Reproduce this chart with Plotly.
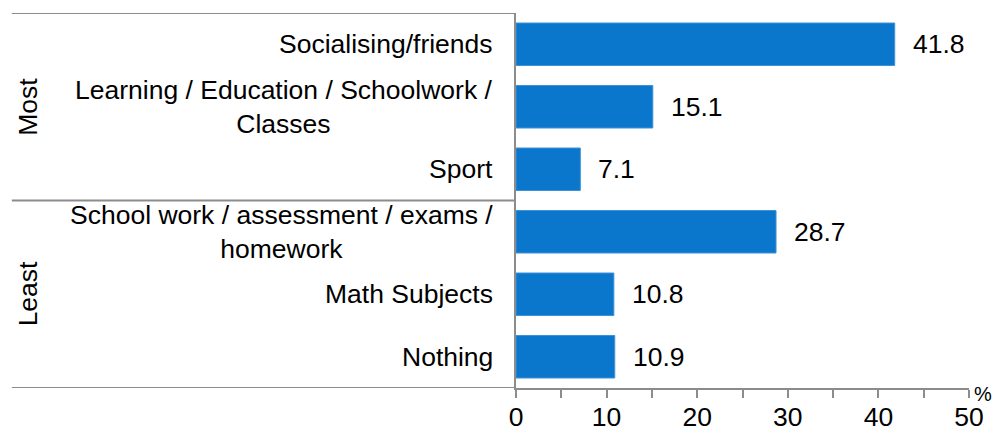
import plotly.graph_objects as go

categories = ["Socialising/friends",
              "Learning / Education / Schoolwork /<br>Classes",
              "Sport",
              "School work / assessment / exams /<br>homework",
              "Math Subjects",
              "Nothing"]
values = [41.8, 15.1, 7.1, 28.7, 10.8, 10.9]
groups = ["Most", "Least"]
group_sizes = [3, 3]

bar_color = "#0B77CC"
line_color = "#8C8C8C"
font_family = "Liberation Sans, Arial, sans-serif"
fsize = 26.5

fig = go.Figure()
fig.add_trace(go.Bar(
    x=values, y=categories, orientation="h",
    marker=dict(color=bar_color, line=dict(color="#3E92D6", width=1)),
    width=0.68, hoverinfo="skip"))

annotations = []
label_font = dict(size=fsize, color="black")
# category labels, lines centred like the original
for c in categories:
    annotations.append(dict(x=0, xref="paper", y=c, yref="y", text=c,
                            xanchor="right", yanchor="middle", align="center",
                            xshift=-21, showarrow=False, font=label_font))
# value labels
for c, v in zip(categories, values):
    annotations.append(dict(x=v, y=c, xref="x", yref="y", text=f"{v:.1f}",
                            xanchor="left", yanchor="middle", xshift=16,
                            showarrow=False, font=label_font))

# group labels and separator lines
shapes = []
start = 0
for g, n in zip(groups, group_sizes):
    mid = start + (n - 1) / 2
    annotations.append(dict(x=-1.077, xref="paper", y=mid, yref="y", text=g,
                            textangle=-90, showarrow=False, xanchor="center",
                            yanchor="middle", font=label_font))
    shapes.append(dict(type="line", xref="paper", yref="y", x0=-1.113, x1=0,
                       y0=start - 0.5, y1=start - 0.5,
                       line=dict(color=line_color, width=1.8)))
    start += n
shapes.append(dict(type="line", xref="paper", yref="y", x0=-1.113, x1=0,
                   y0=start - 0.5, y1=start - 0.5,
                   line=dict(color=line_color, width=1.8)))

annotations.append(dict(x=1, xref="paper", y=0, yref="paper", text="%",
                        xanchor="left", yanchor="middle", xshift=3, yshift=-6,
                        showarrow=False, font=dict(size=20, color="black")))

fig.update_layout(
    width=993, height=432,
    margin=dict(l=516, r=24, t=13, b=44, autoexpand=False),
    paper_bgcolor="white", plot_bgcolor="white",
    font=dict(family=font_family, size=fsize, color="black"),
    showlegend=False,
    annotations=annotations, shapes=shapes,
    xaxis=dict(range=[0, 50], dtick=10, showgrid=False, zeroline=False,
               automargin=False,
               showline=True, linecolor=line_color, linewidth=1.8,
               ticks="outside", ticklen=8, tickcolor=line_color, tickwidth=1.8,
               minor=dict(dtick=5, ticks="outside", ticklen=8,
                          tickcolor=line_color, tickwidth=1.8),
               tickfont=dict(size=fsize), ticklabelstandoff=-4),
    yaxis=dict(autorange=False, range=[len(categories) - 0.5, -0.5],
               automargin=False,
               showticklabels=False, showgrid=False, zeroline=False,
               showline=True, linecolor=line_color, linewidth=1.8, ticks=""),
)

# drop the page body margin so the figure sits at the window corner
fig.write_html("out.html", config={"displayModeBar": False},
               post_script="document.body.style.margin='0';"
                           "document.body.style.overflow='hidden';")
